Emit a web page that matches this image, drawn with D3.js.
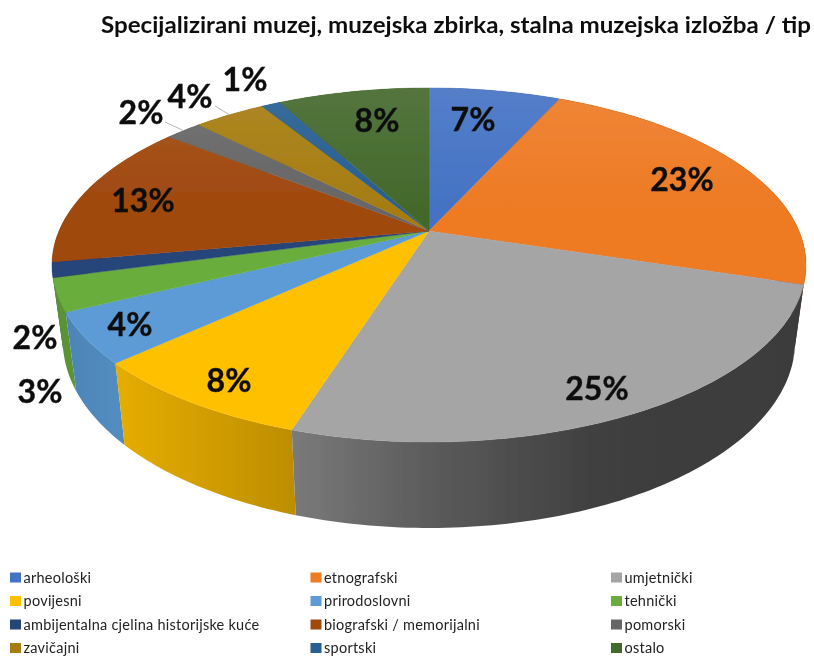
<!DOCTYPE html>
<html>
<head>
<meta charset="utf-8">
<script src="https://cdnjs.cloudflare.com/ajax/libs/d3/7.8.5/d3.min.js"></script>
<style>
  html, body { margin: 0; background: #fff; }
  svg { display: block; }
  text { font-family: Lato, "Open Sans", sans-serif; }
</style>
</head>
<body>
<div id="chart-area"><svg></svg></div>
<script>
const chartSize = { width: 814, height: 656 };

const categories = [
  "arheološki", "etnografski", "umjetnički",
  "povijesni", "prirodoslovni", "tehnički",
  "ambijentalna cjelina historijske kuće", "biografski / memorijalni", "pomorski",
  "zavičajni", "sportski", "ostalo"
];
// share of the circle for each slice
const shares = [6.8, 23, 25.1, 8.3, 4.6, 3, 1.4, 13.4, 1.9, 3.7, 1, 7.8];
const percentLabels = ["7%", "23%", "25%", "8%", "4%", "3%", "2%", "13%", "2%", "4%", "1%", "8%"];
const colors = [
  "#4472c4", "#ee7a24", "#a5a5a5",
  "#ffc000", "#5b9bd5", "#69ad3e",
  "#264478", "#a0480e", "#666666",
  "#a67c10", "#255e91", "#43682b"
];

// label centres in page pixels
const labelCentres = [
  [473, 120], [682, 180], [597, 389], [229, 381], [130, 325], [40, 392],
  [35, 338], [143, 201], [141, 113], [190, 97], [245, 80], [377, 121]
];
const leaderStarts = { 8: [165, 122], 9: [215, 106] };

// 3D pie: disk seen in perspective, apex of the slices sits above the ellipse centre
const apex = { x: 429, y: 231 };
const radius = { x: 370, y: 170.5 };
const perspective = 0.192;
const lowerScale = 0.971;
const depth = 74.4;

const xScale = d3.scaleLinear().domain([-1, 1]).range([apex.x - radius.x, apex.x + radius.x]);
const yScale = d3.scaleLinear().domain([-1, 1]).range([apex.y - radius.y, apex.y + radius.y]);

const project = (angle, lower = false) => {
  const w = 1 + perspective * Math.cos(angle);
  const s = lower ? lowerScale : 1;
  return [
    xScale((s * Math.sin(angle)) / w),
    yScale((-s * Math.cos(angle)) / w) + (lower ? depth / w : 0)
  ];
};

const rimAngles = (a0, a1) => {
  const n = Math.max(2, Math.ceil((a1 - a0) / (Math.PI / 180)));
  return d3.range(n + 1).map(i => a0 + ((a1 - a0) * i) / n);
};

const line = d3.line();

// wall gets darker from left to right
const wallShade = d3.scaleLinear()
  .domain([52, 116, 293, 430, 600, 805])
  .range([0.84, 0.9, 0.74, 0.55, 0.38, 0.36]);

const shadeColor = (color, k) => {
  const c = d3.rgb(color);
  return d3.rgb(c.r * k, c.g * k, c.b * k).formatHex();
};

const initDefs = (svg, slices) => {
  const defs = svg.append("defs");
  defs.append("filter")
    .attr("id", "soft")
    .attr("x", "-5%").attr("y", "-5%").attr("width", "110%").attr("height", "110%")
    .append("feGaussianBlur")
    .attr("stdDeviation", 0.45);

  slices.forEach((d, i) => {
    const grad = defs.append("linearGradient")
      .attr("id", `wall-${i}`)
      .attr("gradientUnits", "userSpaceOnUse")
      .attr("x1", 52).attr("x2", 805).attr("y1", 0).attr("y2", 0);
    wallShade.domain().forEach(x => {
      grad.append("stop")
        .attr("offset", (x - 52) / (805 - 52))
        .attr("stop-color", shadeColor(colors[i], wallShade(x)));
    });
  });

  const sheen = defs.append("linearGradient")
    .attr("id", "sheen")
    .attr("x1", 0).attr("x2", 0).attr("y1", 0).attr("y2", 1);
  sheen.append("stop").attr("offset", 0).attr("stop-color", "#fff").attr("stop-opacity", 0.09);
  sheen.append("stop").attr("offset", 0.35).attr("stop-color", "#fff").attr("stop-opacity", 0);
};

const drawPie = (svg, slices) => {
  const g = svg.append("g").attr("class", "pie").attr("filter", "url(#soft)");

  // walls back to front, then the top faces cover what is hidden
  const frontFirst = slices
    .map((d, i) => ({ ...d, i }))
    .sort((a, b) =>
      Math.abs(b.startAngle / 2 + b.endAngle / 2 - Math.PI) -
      Math.abs(a.startAngle / 2 + a.endAngle / 2 - Math.PI));

  g.selectAll("path.wall")
    .data(frontFirst)
    .enter()
    .append("path")
    .attr("class", "wall")
    .attr("fill", d => `url(#wall-${d.i})`)
    .attr("d", d => {
      const angles = rimAngles(d.startAngle, d.endAngle);
      const upper = angles.map(a => project(a));
      const lower = angles.slice().reverse().map(a => project(a, true));
      return line([...upper, ...lower]) + "Z";
    });

  g.selectAll("path.top")
    .data(slices)
    .enter()
    .append("path")
    .attr("class", "top")
    .attr("fill", (d, i) => colors[i])
    .attr("stroke", (d, i) => colors[i])
    .attr("stroke-width", 0.4)
    .attr("d", d => {
      const rim = rimAngles(d.startAngle, d.endAngle).map(a => project(a));
      return line([[apex.x, apex.y], ...rim]) + "Z";
    });

  g.append("path")
    .attr("class", "sheen")
    .attr("fill", "url(#sheen)")
    .attr("d", line(rimAngles(0, 2 * Math.PI).map(a => project(a))) + "Z");

  const mid = d => (d.startAngle + d.endAngle) / 2;
  g.selectAll("line.leader")
    .data(Object.keys(leaderStarts).map(Number))
    .enter()
    .append("line")
    .attr("class", "leader")
    .attr("stroke", "#b5b5b5")
    .attr("stroke-width", 1)
    .attr("x1", i => leaderStarts[i][0])
    .attr("y1", i => leaderStarts[i][1])
    .attr("x2", i => project(mid(slices[i]))[0])
    .attr("y2", i => project(mid(slices[i]))[1]);
};

const drawLabels = svg => {
  svg.append("g")
    .attr("class", "percent-labels")
    .attr("filter", "url(#soft)")
    .selectAll("text")
    .data(percentLabels)
    .enter()
    .append("text")
    .attr("x", (d, i) => labelCentres[i][0])
    .attr("y", (d, i) => labelCentres[i][1])
    .attr("dy", "0.35em")
    .attr("text-anchor", "middle")
    .attr("font-size", 32)
    .attr("font-weight", 700)
    .attr("fill", "#111")
    .attr("stroke", "#111")
    .attr("stroke-width", 0.4)
    .text(d => d);
};

const drawLegend = svg => {
  const columns = d3.scalePoint().domain([0, 1, 2]).range([10, 611]);
  const rows = d3.scalePoint().domain([0, 1, 2, 3]).range([577.5, 648]);

  const item = svg.append("g")
    .attr("class", "legend")
    .attr("filter", "url(#soft)")
    .selectAll("g")
    .data(categories)
    .enter()
    .append("g")
    .attr("transform", (d, i) => `translate(${columns(i % 3)},${rows(Math.floor(i / 3))})`);

  item.append("rect")
    .attr("x", 0)
    .attr("y", -5)
    .attr("width", 11)
    .attr("height", 10)
    .attr("fill", (d, i) => colors[i]);

  item.append("text")
    .attr("x", 13.5)
    .attr("dy", "0.35em")
    .attr("font-size", 14.5)
    .attr("letter-spacing", 0.25)
    .attr("fill", "#222")
    .text(d => d);
};

const main = () => {
  const svg = d3.select("#chart-area svg")
    .attr("width", chartSize.width)
    .attr("height", chartSize.height);

  const slices = d3.pie().sort(null).value(d => d)(shares);

  initDefs(svg, slices);
  drawPie(svg, slices);
  drawLabels(svg);
  drawLegend(svg);

  svg.append("text")
    .attr("class", "title")
    .attr("x", 101)
    .attr("y", 33)
    .attr("font-size", 22.5)
    .attr("font-weight", 700)
    .attr("fill", "#111")
    .attr("filter", "url(#soft)")
    .attr("textLength", 710)
    .attr("lengthAdjust", "spacingAndGlyphs")
    .text("Specijalizirani muzej, muzejska zbirka, stalna muzejska izložba / tip");
};

window.onload = main;
</script>
</body>
</html>
